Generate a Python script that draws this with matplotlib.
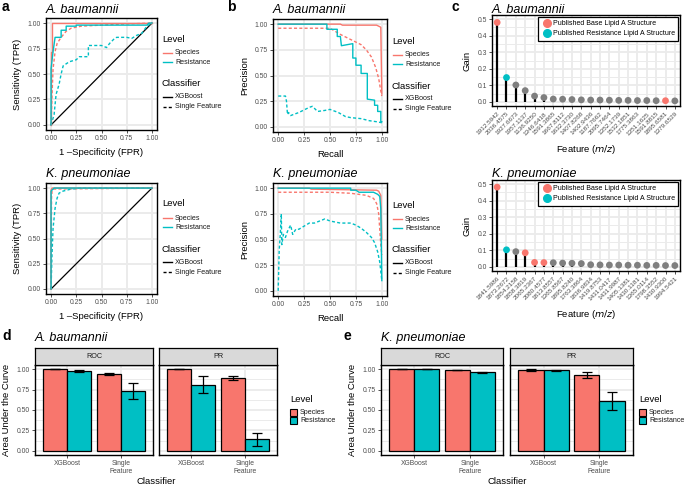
import matplotlib.pyplot as plt
from matplotlib.lines import Line2D
from matplotlib.patches import Rectangle
import numpy as np

plt.rcParams['font.family'] = ['Liberation Sans', 'DejaVu Sans']

RED = '#F8766D'
CYAN = '#00BFC4'
GREY = '#7F7F7F'
GRID = '#EBEBEB'
TICK = '#4D4D4D'

# ---------------- ROC curves (a) ----------------
# A. baumannii
roc_ab_sp_xgb_x = [0, 0, 0.01, 0.01, 1.0]
roc_ab_sp_xgb_y = [0, 0.72, 0.72, 1.0, 1.0]
roc_ab_rs_xgb_x = [0, 0, 0.02, 0.03, 0.04, 0.10, 0.10, 0.15, 0.15, 0.25, 0.25, 0.95, 0.97, 1.0]
roc_ab_rs_xgb_y = [0, 0.55, 0.72, 0.79, 0.86, 0.86, 0.93, 0.93, 0.97, 0.97, 0.98, 0.98, 1.0, 1.0]
roc_ab_sp_sf_x = [0, 0.01, 0.02, 0.04, 0.06, 0.10, 0.15, 0.20, 0.30, 0.50, 0.70, 1.0]
roc_ab_sp_sf_y = [0, 0.30, 0.55, 0.72, 0.80, 0.86, 0.92, 0.95, 0.97, 0.98, 0.99, 1.0]
roc_ab_rs_sf_x = [0, 0.03, 0.05, 0.08, 0.10, 0.12, 0.18, 0.25, 0.28, 0.37, 0.37, 0.50, 0.55,
                  0.58, 0.62, 0.65, 0.75, 0.80, 0.85, 0.90, 0.95, 1.0]
roc_ab_rs_sf_y = [0, 0.10, 0.30, 0.40, 0.50, 0.58, 0.62, 0.64, 0.67, 0.67, 0.78, 0.78, 0.76,
                  0.80, 0.84, 0.86, 0.86, 0.85, 0.88, 0.90, 0.97, 1.0]
# K. pneumoniae
roc_kp_sp_xgb_x = [0, 0, 0.01, 1.0]
roc_kp_sp_xgb_y = [0, 0.98, 1.0, 1.0]
roc_kp_rs_xgb_x = [0, 0, 0.02, 0.03, 1.0]
roc_kp_rs_xgb_y = [0, 0.97, 0.99, 1.0, 1.0]
roc_kp_sp_sf_x = [0, 0.005, 0.01, 0.02, 1.0]
roc_kp_sp_sf_y = [0, 0.90, 0.97, 0.99, 1.0]
roc_kp_rs_sf_x = [0, 0.01, 0.02, 0.04, 0.06, 0.08, 0.12, 0.20, 0.30, 1.0]
roc_kp_rs_sf_y = [0, 0.35, 0.60, 0.80, 0.90, 0.95, 0.97, 0.99, 1.0, 1.0]

# ---------------- PR curves (b) ----------------
pr_ab_sp_xgb_x = [0, 0.60, 0.62, 0.95, 0.97, 0.99, 1.0]
pr_ab_sp_xgb_y = [1.0, 1.0, 0.99, 0.99, 0.98, 0.97, 0.32]
pr_ab_rs_xgb_x = [0, 0.47, 0.47, 0.57, 0.57, 0.60, 0.61, 0.72, 0.72, 0.75, 0.75, 0.80, 0.80,
                  0.86, 0.86, 0.93, 0.93, 0.96, 0.96, 0.99, 0.99, 1.0]
pr_ab_rs_xgb_y = [1.0, 1.0, 0.95, 0.95, 0.88, 0.88, 0.79, 0.81, 0.67, 0.67, 0.60, 0.60, 0.52,
                  0.52, 0.27, 0.26, 0.21, 0.21, 0.15, 0.15, 0.05, 0.05]
pr_ab_sp_sf_x = [0, 0.50, 0.55, 0.60, 0.70, 0.80, 0.85, 0.90, 0.94, 0.97, 0.99, 1.0]
pr_ab_sp_sf_y = [0.96, 0.96, 0.93, 0.90, 0.85, 0.80, 0.75, 0.68, 0.58, 0.47, 0.35, 0.30]
pr_ab_rs_sf_x = [0, 0.07, 0.08, 0.09, 0.10, 0.12, 0.20, 0.30, 0.33, 0.38, 0.45, 0.50, 0.58,
                 0.65, 0.70, 0.80, 0.88, 0.95, 1.0]
pr_ab_rs_sf_y = [0.30, 0.30, 0.25, 0.12, 0.14, 0.11, 0.14, 0.19, 0.20, 0.15, 0.16, 0.17, 0.14,
                 0.10, 0.09, 0.08, 0.06, 0.05, 0.04]
pr_kp_sp_xgb_x = [0, 0.30, 0.32, 0.95, 0.97, 0.99, 1.0]
pr_kp_sp_xgb_y = [1.0, 1.0, 0.99, 0.98, 0.97, 0.93, 0.50]
pr_kp_rs_xgb_x = [0, 0.70, 0.70, 0.75, 0.78, 0.92, 0.96, 0.98, 0.99, 1.0]
pr_kp_rs_xgb_y = [1.0, 1.0, 0.98, 0.98, 0.96, 0.96, 0.94, 0.92, 0.80, 0.10]
pr_kp_sp_sf_x = [0, 0.20, 0.50, 0.70, 0.85, 0.92, 0.95, 0.97, 0.98, 0.99, 1.0]
pr_kp_sp_sf_y = [0.96, 0.96, 0.96, 0.95, 0.93, 0.90, 0.85, 0.75, 0.60, 0.45, 0.35]
pr_kp_rs_sf_x = [0, 0.01, 0.02, 0.03, 0.035, 0.05, 0.07, 0.09, 0.12, 0.14, 0.17, 0.20, 0.25,
                 0.30, 0.35, 0.45, 0.50, 0.60, 0.70, 0.75, 0.80, 0.85, 0.90, 0.93, 0.96, 0.98, 1.0]
pr_kp_rs_sf_y = [0, 0.40, 0.55, 0.75, 0.45, 0.55, 0.52, 0.58, 0.64, 0.55, 0.60, 0.60, 0.63,
                 0.66, 0.66, 0.70, 0.68, 0.66, 0.66, 0.64, 0.61, 0.57, 0.52, 0.47, 0.38, 0.28, 0.10]

# ---------------- Feature gain (c) ----------------
ab_mz = ['1912.5942', '2036.4575', '1927.6673', '1957.1137', '1136.9250', '1346.6418',
         '1591.3865', '1667.8112', '1632.3730', '1407.8268', '1402.9436', '1187.7662',
         '2095.7464', '1352.1739', '1532.1851', '1775.3863', '1351.1625', '1591.8815',
         '1895.6581', '1379.6529']
ab_gain = [0.480, 0.147, 0.102, 0.068, 0.035, 0.026, 0.017, 0.016, 0.014, 0.012,
           0.011, 0.011, 0.010, 0.009, 0.009, 0.008, 0.008, 0.007, 0.007, 0.006]
ab_type = ['Base', 'Resistance'] + ['None'] * 16 + ['Base', 'None']

kp_mz = ['1841.5986', '1873.2672', '1854.2158', '1858.3819', '2065.2367', '2080.4577',
         '1813.8557', '1365.8567', '1895.8240', '1763.3864', '1836.9834', '1419.8753',
         '1431.0417', '1431.9987', '1405.1381', '1430.1181', '1365.0114', '1798.3552',
         '1430.9300', '1994.5421']
kp_gain = [0.482, 0.103, 0.092, 0.085, 0.027, 0.026, 0.025, 0.023, 0.022, 0.020,
           0.013, 0.012, 0.011, 0.011, 0.010, 0.010, 0.009, 0.009, 0.008, 0.008]
kp_type = ['Base', 'Resistance', 'None', 'Base', 'Base', 'Base'] + ['None'] * 14

# ---------------- AUC bars (d, e) ----------------
classifiers = ['XGBoost', 'Single\nFeature']
ab_roc_species = [1.00, 0.94]
ab_roc_species_err = [0.003, 0.01]
ab_roc_resist = [0.975, 0.73]
ab_roc_resist_err = [0.015, 0.095]
ab_pr_species = [1.00, 0.89]
ab_pr_species_err = [0.002, 0.02]
ab_pr_resist = [0.81, 0.14]
ab_pr_resist_err = [0.10, 0.08]

kp_roc_species = [1.00, 0.99]
kp_roc_species_err = [0.001, 0.005]
kp_roc_resist = [1.00, 0.96]
kp_roc_resist_err = [0.002, 0.01]
kp_pr_species = [0.99, 0.93]
kp_pr_species_err = [0.01, 0.035]
kp_pr_resist = [0.985, 0.61]
kp_pr_resist_err = [0.01, 0.11]

W, H = 685, 487
fig = plt.figure(figsize=(6.85, 4.87), dpi=100)

AX_TITLE = 6.8
LEG_TXT = 5.1


def fx(x):
    return x / W


def fy(y):
    return 1 - y / H


def box(x0, y0, x1, y1):
    return fig.add_axes([x0 / W, 1 - y1 / H, (x1 - x0) / W, (y1 - y0) / H])


def style(ax, size=4.9):
    for s in ax.spines.values():
        s.set_linewidth(1.0)
        s.set_color('black')
    ax.tick_params(labelsize=size, labelcolor=TICK, color='#333333', length=2.2, width=0.6, pad=1.5)
    ax.set_axisbelow(True)


ticks = [0, 0.25, 0.5, 0.75, 1.0]
tlabels = ['0.00', '0.25', '0.50', '0.75', '1.00']


def curve_panel(ax, curves, xlabel, ylabel, diag=False):
    ax.set_xlim(-0.05, 1.05)
    ax.set_ylim(-0.05, 1.05)
    ax.set_xticks(ticks)
    ax.set_xticklabels(tlabels)
    ax.set_yticks(ticks)
    ax.set_yticklabels(tlabels)
    ax.grid(True, color=GRID, lw=1.4)
    style(ax)
    if diag:
        ax.plot([0, 1], [0, 1], color='black', lw=0.9)
    for x, y, c, ls in curves:
        if ls == 'dash':
            ax.plot(x, y, color=c, lw=1.0, dashes=(2.2, 1.6))
        else:
            ax.plot(x, y, color=c, lw=1.0)
    ax.set_xlabel(xlabel, fontsize=AX_TITLE, labelpad=4)
    ax.set_ylabel(ylabel, fontsize=AX_TITLE, labelpad=4)


def line_legend(x, y):
    fig.text(fx(x), fy(y), 'Level', fontsize=AX_TITLE, va='center')
    fig.text(fx(x), fy(y + 45), 'Classifier', fontsize=AX_TITLE, va='center')
    keys = [(RED, '-', 'Species', 14), (CYAN, '-', 'Resistance', 23),
            ('black', '-', 'XGBoost', 58), ('black', '--', 'Single Feature', 68)]
    for c, ls, lab, dy in keys:
        ln = Line2D([fx(x + 1), fx(x + 10)], [fy(y + dy), fy(y + dy)], color=c, lw=1.0,
                    transform=fig.transFigure)
        if ls == '--':
            ln.set_dashes((2.2, 1.6))
        fig.add_artist(ln)
        fig.text(fx(x + 13), fy(y + dy), lab, fontsize=LEG_TXT, va='center', color='#1A1A1A')


def gain_panel(ax, labels, gains, types):
    cmap = {'Base': RED, 'Resistance': CYAN, 'None': GREY}
    x = np.arange(1, len(gains) + 1)
    ax.vlines(x, 0, gains, color='black', lw=1.6)
    ax.scatter(x, gains, c=[cmap[t] for t in types], s=24, zorder=3, linewidths=0)
    ax.set_xlim(0.45, len(gains) + 0.55)
    ax.set_ylim(-0.025, 0.525)
    ax.set_yticks([0, 0.1, 0.2, 0.3, 0.4, 0.5])
    ax.set_yticklabels(['0.0', '0.1', '0.2', '0.3', '0.4', '0.5'])
    ax.set_yticks(np.arange(0.05, 0.5, 0.1), minor=True)
    ax.set_xticks(x)
    ax.set_xticklabels(labels, rotation=45, ha='right', va='top', rotation_mode='anchor')
    ax.grid(True, which='major', color=GRID, lw=1.3)
    ax.grid(True, which='minor', axis='y', color=GRID, lw=0.7)
    style(ax)
    ax.tick_params(axis='x', labelsize=4.6)
    ax.tick_params(which='minor', length=0)
    ax.set_ylabel('Gain', fontsize=AX_TITLE, labelpad=4)
    ax.set_xlabel('Feature ($m/z$)', fontsize=AX_TITLE, labelpad=5)
    handles = [Line2D([], [], marker='o', ls='', color=RED, markersize=5.5, label='Published Base Lipid A Structure'),
               Line2D([], [], marker='o', ls='', color=CYAN, markersize=5.5, label='Published Resistance Lipid A Structure')]
    leg = ax.legend(handles=handles, loc='upper right', fontsize=5.0, frameon=True, fancybox=False,
                    edgecolor='black', borderaxespad=0.25, handletextpad=0.1, labelspacing=0.45,
                    borderpad=0.5, handlelength=1.5, framealpha=1)
    leg.get_frame().set_linewidth(0.9)


def bar_facet(ax, sp, sp_err, rs, rs_err, show_y):
    x = np.arange(len(classifiers))
    ax.bar(x - 0.225, sp, 0.45, color=RED, edgecolor='black', lw=0.9, zorder=2)
    ax.bar(x + 0.225, rs, 0.45, color=CYAN, edgecolor='black', lw=0.9, zorder=2)
    ax.errorbar(x - 0.225, sp, yerr=sp_err, fmt='none', ecolor='black', capsize=3.5, elinewidth=0.9,
                capthick=0.9, zorder=3)
    ax.errorbar(x + 0.225, rs, yerr=rs_err, fmt='none', ecolor='black', capsize=3.5, elinewidth=0.9,
                capthick=0.9, zorder=3)
    ax.set_xlim(-0.6, 1.6)
    ax.set_ylim(-0.05, 1.05)
    ax.set_xticks(x)
    ax.set_xticklabels(classifiers)
    ax.set_yticks(ticks)
    ax.set_yticklabels(tlabels)
    ax.set_yticks([0.125, 0.375, 0.625, 0.875], minor=True)
    ax.grid(True, which='major', color=GRID, lw=1.3)
    ax.grid(True, which='minor', axis='y', color=GRID, lw=0.7)
    style(ax)
    ax.tick_params(which='minor', length=0)
    if not show_y:
        ax.tick_params(axis='y', left=False, labelleft=False)


def strip(x0, x1, y0, y1, text):
    sa = box(x0, y0, x1, y1)
    sa.set_facecolor('#D9D9D9')
    sa.set_xticks([])
    sa.set_yticks([])
    for s in sa.spines.values():
        s.set_linewidth(0.9)
    sa.text(0.5, 0.5, text, fontsize=5.2, ha='center', va='center', color='#1A1A1A',
            transform=sa.transAxes)


# ---- panel a ----
ax = box(46, 18, 157, 130)
curve_panel(ax, [(roc_ab_sp_sf_x, roc_ab_sp_sf_y, RED, 'dash'),
                 (roc_ab_rs_sf_x, roc_ab_rs_sf_y, CYAN, 'dash'),
                 (roc_ab_sp_xgb_x, roc_ab_sp_xgb_y, RED, 'solid'),
                 (roc_ab_rs_xgb_x, roc_ab_rs_xgb_y, CYAN, 'solid')],
            '1 \u2013Specificity (FPR)', 'Sensitivity (TPR)', diag=True)
ax = box(46, 183, 157, 294)
curve_panel(ax, [(roc_kp_sp_sf_x, roc_kp_sp_sf_y, RED, 'dash'),
                 (roc_kp_rs_sf_x, roc_kp_rs_sf_y, CYAN, 'dash'),
                 (roc_kp_sp_xgb_x, roc_kp_sp_xgb_y, RED, 'solid'),
                 (roc_kp_rs_xgb_x, roc_kp_rs_xgb_y, CYAN, 'solid')],
            '1 \u2013Specificity (FPR)', 'Sensitivity (TPR)', diag=True)
line_legend(162, 39)
line_legend(162, 204)

# ---- panel b ----
ax = box(273, 19, 387, 132)
curve_panel(ax, [(pr_ab_sp_sf_x, pr_ab_sp_sf_y, RED, 'dash'),
                 (pr_ab_rs_sf_x, pr_ab_rs_sf_y, CYAN, 'dash'),
                 (pr_ab_sp_xgb_x, pr_ab_sp_xgb_y, RED, 'solid'),
                 (pr_ab_rs_xgb_x, pr_ab_rs_xgb_y, CYAN, 'solid')],
            'Recall', 'Precision')
ax = box(273, 183, 387, 296)
curve_panel(ax, [(pr_kp_sp_sf_x, pr_kp_sp_sf_y, RED, 'dash'),
                 (pr_kp_rs_sf_x, pr_kp_rs_sf_y, CYAN, 'dash'),
                 (pr_kp_sp_xgb_x, pr_kp_sp_xgb_y, RED, 'solid'),
                 (pr_kp_rs_xgb_x, pr_kp_rs_xgb_y, CYAN, 'solid')],
            'Recall', 'Precision')
line_legend(392, 41)
line_legend(392, 205)

# ---- panel c ----
ax = box(492, 15, 680, 106)
gain_panel(ax, ab_mz, ab_gain, ab_type)
ax = box(492, 180, 680, 271)
gain_panel(ax, kp_mz, kp_gain, kp_type)

# ---- panel d ----
ax = box(35, 365, 153, 455)
bar_facet(ax, ab_roc_species, ab_roc_species_err, ab_roc_resist, ab_roc_resist_err, True)
ax.set_ylabel('Area Under the Curve', fontsize=AX_TITLE, labelpad=4)
ax = box(159, 365, 277, 455)
bar_facet(ax, ab_pr_species, ab_pr_species_err, ab_pr_resist, ab_pr_resist_err, False)
strip(35, 153, 348, 365, 'ROC')
strip(159, 277, 348, 365, 'PR')
fig.text(fx(156), fy(482), 'Classifier', fontsize=AX_TITLE, ha='center', va='center')

# ---- panel e ----
ax = box(381, 365, 503, 455)
bar_facet(ax, kp_roc_species, kp_roc_species_err, kp_roc_resist, kp_roc_resist_err, True)
ax.set_ylabel('Area Under the Curve', fontsize=AX_TITLE, labelpad=4)
ax = box(510, 365, 633, 455)
bar_facet(ax, kp_pr_species, kp_pr_species_err, kp_pr_resist, kp_pr_resist_err, False)
strip(381, 503, 348, 365, 'ROC')
strip(510, 633, 348, 365, 'PR')
fig.text(fx(507), fy(482), 'Classifier', fontsize=AX_TITLE, ha='center', va='center')


def fill_legend(x, y):
    fig.text(fx(x), fy(y), 'Level', fontsize=AX_TITLE, va='center')
    for c, lab, dy in [(RED, 'Species', 13), (CYAN, 'Resistance', 21)]:
        fig.add_artist(Rectangle((fx(x), fy(y + dy + 3.5)), 7 / W, 7 / H, facecolor=c,
                                 edgecolor='black', lw=0.8, transform=fig.transFigure))
        fig.text(fx(x + 10), fy(y + dy), lab, fontsize=LEG_TXT, va='center', color='#1A1A1A')


fill_legend(290, 399)
fill_legend(639, 399)

# ---- titles and letters ----
for x, y, t in [(46, 10, 'A. baumannii'), (273, 10, 'A. baumannii'), (492, 10, 'A. baumannii'),
                (46, 174, 'K. pneumoniae'), (273, 174, 'K. pneumoniae'), (492, 174, 'K. pneumoniae'),
                (35, 338, 'A. baumannii'), (381, 338, 'K. pneumoniae')]:
    fig.text(fx(x), fy(y), t, fontsize=9, style='italic', va='center')
for x, y, t in [(2, 7, 'a'), (227, 7, 'b'), (451, 7, 'c'), (2, 336, 'd'), (344, 336, 'e')]:
    fig.text(fx(x), fy(y), t, fontsize=10, weight='bold', va='center')

fig.savefig('out.png', dpi=100)
